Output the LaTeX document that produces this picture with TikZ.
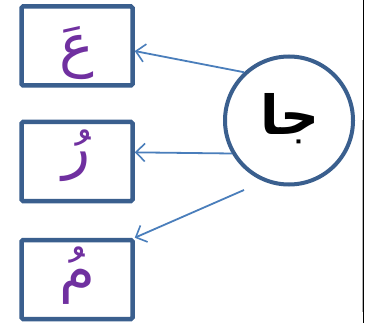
\documentclass[tikz,border=0pt]{standalone}
\usepackage{fontspec}
\newfontfamily\arabicfont[Script=Arabic]{DejaVu Sans}
\newfontfamily\arabicbold[Script=Arabic]{DejaVu Sans Bold}
\TeXXeTstate=1
\usetikzlibrary{arrows.meta}
\definecolor{boxblue}{HTML}{3A5F8E}
\definecolor{arrblue}{HTML}{4A7EBB}
\definecolor{letterpurple}{HTML}{7030A0}
\tikzset{
  letterbox/.style={draw=boxblue, line width=4.5pt, rounded corners=1.5pt,
    minimum width=111pt, minimum height=79pt, inner sep=0pt, fill=white},
  lettertext/.style={text=letterpurple, font=\arabicfont\fontsize{58}{64}\selectfont, inner sep=0pt},
  hub/.style={draw=boxblue, line width=4pt, circle, minimum size=128pt, inner sep=0pt},
  hubtext/.style={text=black, font=\arabicbold\fontsize{54}{60}\selectfont, inner sep=0pt},
  link/.style={draw=arrblue, line width=1.8pt, -{Straight Barb[length=9pt,width=18pt,line width=1.6pt]}}
}
\begin{document}
\begin{tikzpicture}[x=1pt,y=-1pt]
\useasboundingbox (0,0) rectangle (366,323);
\fill[white] (0,0) rectangle (366,323);
% right edge line
\draw[black, line width=1pt] (363.5,0) -- (363.5,323);
\draw[gray!60, line width=1pt] (362,120) -- (362,312);
% boxes
\node[letterbox] (b1) at (77,46) {};
\node[letterbox] (b2) at (77,161.5) {};
\node[letterbox] (b3) at (77,279.5) {};
\node[lettertext] (t1) at (77,53) {\beginR عَ\endR};
\node[lettertext] (t2) at (77,156) {\beginR رُ\endR};
\node[lettertext] (t3) at (77,276) {\beginR مُ\endR};
% hub
\node[hub] (c) at (289,120.5) {};
\node[hubtext] (ct) at (290,119) {\beginR جا\endR};
\coordinate (s3) at (244,190);
% links
\draw[link] (c.133) -- (b1.-5);
\draw[link] (c.210) -- (b2.9);
\draw[link] (s3) -- (b3.north east);
\end{tikzpicture}
\end{document}
